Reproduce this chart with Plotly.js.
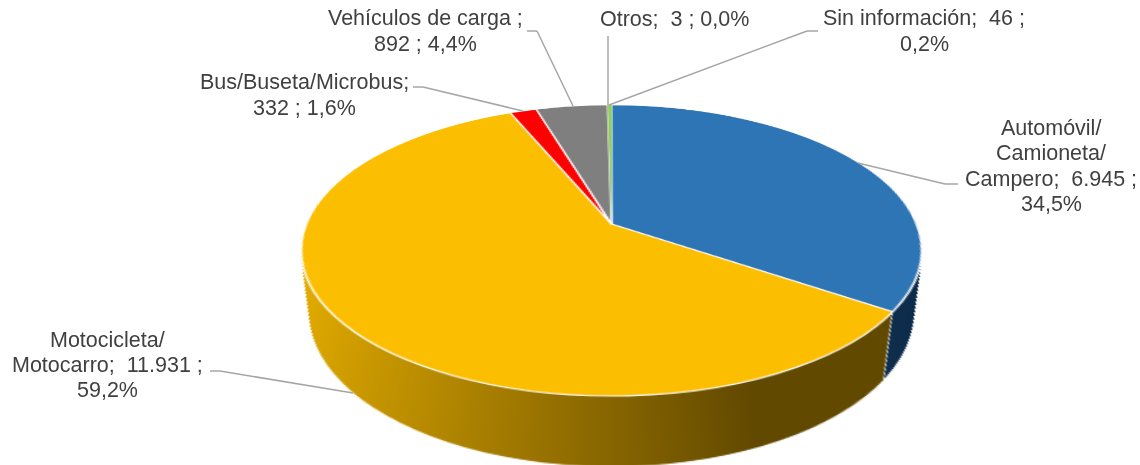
<!DOCTYPE html>
<html><head><meta charset="utf-8">
<script src="https://cdn.plot.ly/plotly-3.0.1.min.js"></script>
<style>html,body{margin:0;padding:0;background:#fff;overflow:hidden}#chart{width:1140px;height:465px}</style>
</head><body><div id="chart"></div>
<script>
// ---- data ----
var categories = ["Automóvil/Camioneta/Campero","Motocicleta/Motocarro","Bus/Buseta/Microbus","Vehículos de carga","Otros","Sin información"];
var vehicleCounts = [6945,11931,332,892,3,46];
var topColors = ["#2E75B6","#FCBE00","#FF0000","#7F7F7F","#4472C4","#92D050"];
var wallColors = ["#12304F","#9A7600","#990000","#4C4C4C","#294579","#587D30"];
var sliceBorders = [1.2,1.2,1.2,1.2,0,0];
var labelTexts = [
 "Automóvil/<br>Camioneta/<br>Campero;\u00A0 6.945 ;<br>34,5%",
 "Motocicleta/<br>Motocarro;\u00A0 11.931 ;<br>59,2%",
 "Bus/Buseta/Microbus;<br>332 ; 1,6%",
 "Vehículos de carga ;<br>892 ; 4,4%",
 "Otros;\u00A0 3 ; 0,0%",
 "Sin información;\u00A0 46 ;<br>0,2%"
];
var labelAnchors = [[1051,166],[107,365],[304,95],[425,31],[674,19],[924,31]];
var leaderPaths = [
 [[958,184],[945,184],[858,163]],
 [[210,371],[220,371],[353,393]],
 [[413,87],[423,87],[523,111]],
 [[527,31],[537,31],[573,106]],
 [[608,36],[608,105]],
 [[818,31],[807,31],[609,105]]
];
// ---- layout constants ----
var W=1140,H=465,R=190,cx=570,cy=195;
var apexX=611.5,apexY=224,p=-0.182,a=305,b=140.7;
var wallLayers=150,wallShift=0.412,wallShrink=0.10;
var separator=24,lineGap=25.3;

function domainFor(shift,scale){
  var y=cy+shift*R, r=scale*R;
  return {x:[(cx-r)/W,(cx+r)/W], y:[1-(y+r)/H,1-(y-r)/H]};
}
// wall values: a hairline white separator between the blue and gold walls
var wallValues=[vehicleCounts[0],separator,vehicleCounts[1]-separator].concat(vehicleCounts.slice(2));
var wallFill=[wallColors[0],"#F4F4F4"].concat(wallColors.slice(1));

var traces=[];
for(var i=wallLayers;i>=1;i--){
  var t=i/wallLayers;
  traces.push({type:"pie",values:wallValues,sort:false,direction:"clockwise",rotation:0,
    textinfo:"none",hoverinfo:"skip",showlegend:false,
    marker:{colors:wallFill,line:{width:0}},
    domain:domainFor(wallShift*t,1-wallShrink*t)});
}
traces.push({type:"pie",labels:categories,values:vehicleCounts,sort:false,direction:"clockwise",rotation:0,
  textinfo:"none",hoverinfo:"skip",showlegend:false,
  marker:{colors:topColors,line:{color:"#FFFFFF",width:sliceBorders}},
  domain:domainFor(0,1)});

var annotations=[];
labelTexts.forEach(function(txt,k){
  var lines=txt.split("<br>");
  lines.forEach(function(line,li){
    annotations.push({text:line,xref:"paper",yref:"paper",x:labelAnchors[k][0]/W,
      y:1-(labelAnchors[k][1]+(li-(lines.length-1)/2)*lineGap)/H,
      xanchor:"center",yanchor:"middle",align:"center",showarrow:false,
      font:{family:"Liberation Sans, Arial, sans-serif",size:21.5,color:"#404040"}});
  });
});
leaderPaths.forEach(function(path){
  for(var j=0;j<path.length-1;j++){
    annotations.push({text:" ",font:{size:1},xref:"paper",yref:"paper",
      x:path[j+1][0]/W,y:1-path[j+1][1]/H,axref:"pixel",ayref:"pixel",
      ax:path[j][0]-path[j+1][0],ay:path[j][1]-path[j+1][1],
      showarrow:true,arrowhead:0,arrowwidth:1.5,arrowcolor:"#A6A6A6",standoff:0,startstandoff:0,borderpad:0,borderwidth:0});
  }
});

Plotly.newPlot("chart",traces,{width:W,height:H,margin:{l:0,r:0,t:0,b:0},
  paper_bgcolor:"rgba(0,0,0,0)",plot_bgcolor:"rgba(0,0,0,0)",showlegend:false,annotations:annotations},
  {displayModeBar:false,staticPlot:true}).then(function(gd){
  var svg=gd.querySelector(".main-svg");
  // gold wall shading
  var NS="http://www.w3.org/2000/svg";
  var g=document.createElementNS(NS,"linearGradient");
  g.setAttribute("id","wallGold");g.setAttribute("gradientUnits","userSpaceOnUse");
  g.setAttribute("x1",cx-R*0.93);g.setAttribute("x2",cx+R*0.37);g.setAttribute("y1",0);g.setAttribute("y2",0);
  [["0","#E2AB00"],["1","#624900"]].forEach(function(s){
    var st=document.createElementNS(NS,"stop");st.setAttribute("offset",s[0]);st.setAttribute("stop-color",s[1]);g.appendChild(st);
  });
  (svg.querySelector("defs")||svg.appendChild(document.createElementNS(NS,"defs"))).appendChild(g);
  var tr=svg.querySelectorAll(".pielayer .trace");
  for(var n=0;n<tr.length-1;n++){
    var sl=tr[n].querySelectorAll(".slice path.surface");
    if(sl[2]) sl[2].style.fill="url(#wallGold)";
  }
  // tilt the pie plane (perspective); labels live in the upper svg and stay flat
  var m11=a/R,m21=apexX*p/R,m41=apexX-apexX*p*cy/R-a*cx/R,
      m22=(apexY*p+b)/R,m42=apexY-(apexY*p+b)*cy/R,
      m24=p/R,m44=1-p*cy/R;
  svg.style.transformOrigin="0 0";
  svg.style.transform="matrix3d("+[m11,0,0,0, m21,m22,0,m24, 0,0,1,0, m41,m42,0,m44].join(",")+")";
});
</script></body></html>
